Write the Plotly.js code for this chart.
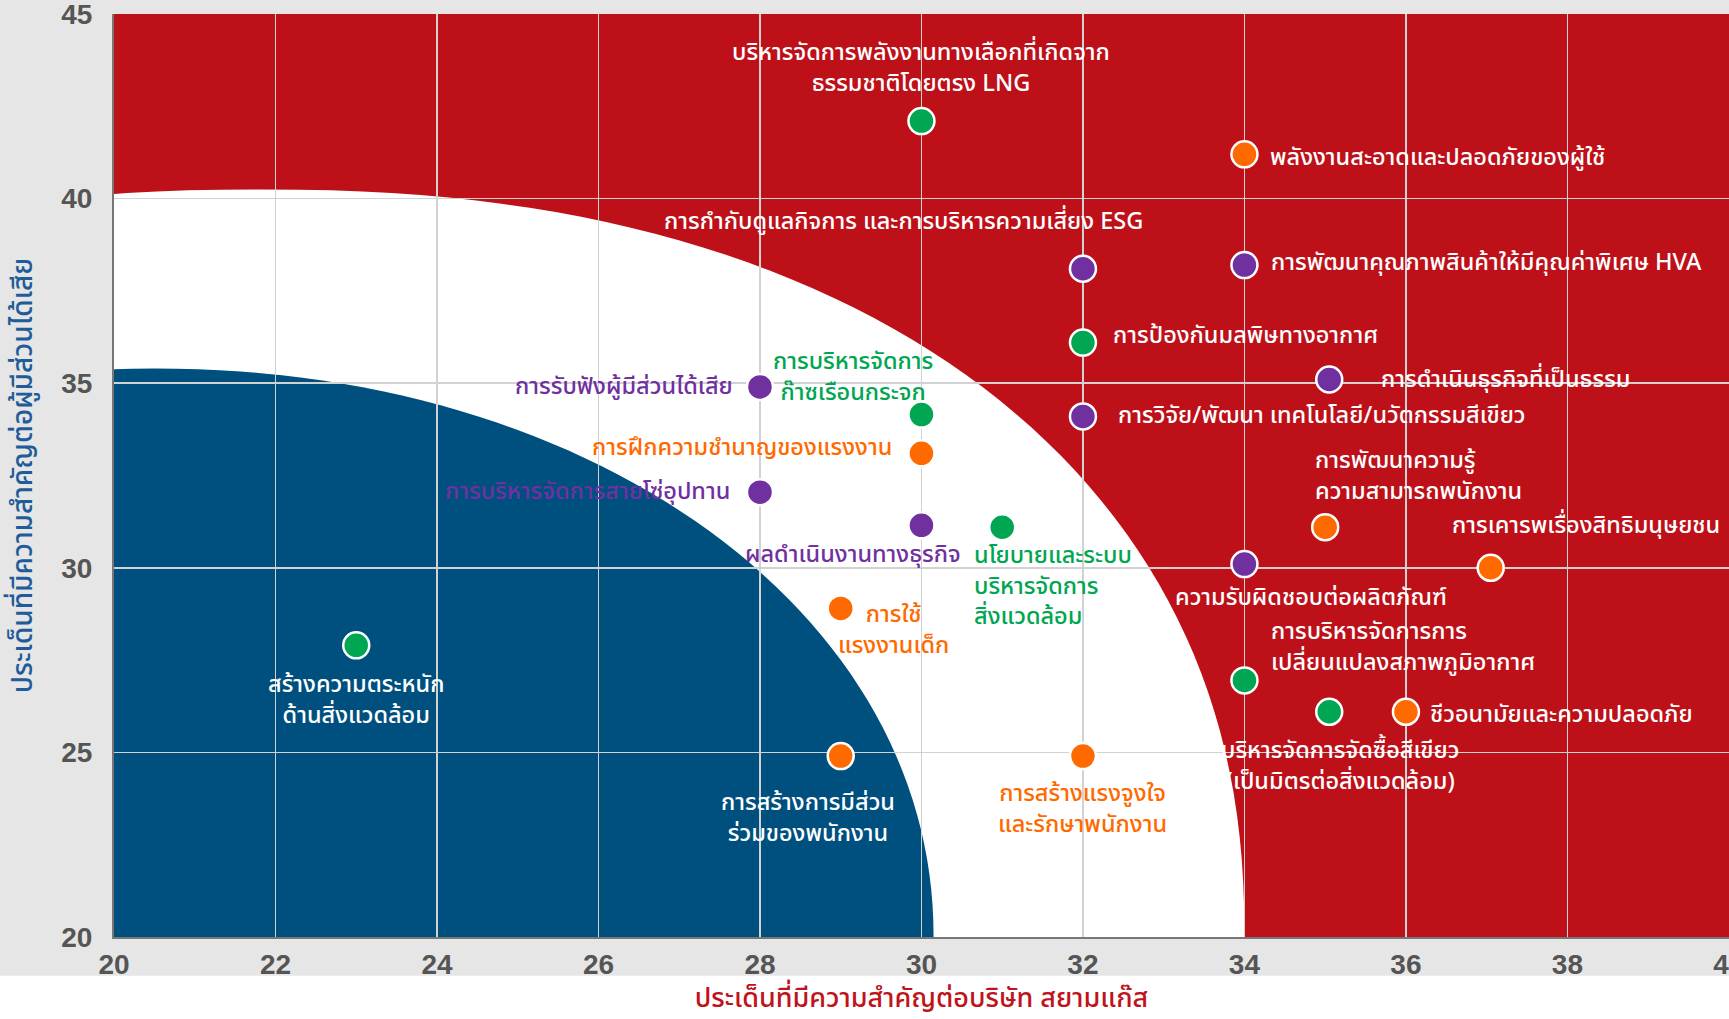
<!DOCTYPE html>
<html>
<head>
<meta charset="utf-8">
<script src="https://cdn.plot.ly/plotly-3.0.1.min.js"></script>
<style>
  html, body { margin: 0; padding: 0; background: #e6e6e6; }
  #chart { width: 1729px; height: 1019px; }
</style>
</head>
<body>
<div id="chart"></div>
<script>
// ---------------- DATA ----------------
const issues = [
  "บริหารจัดการพลังงานทางเลือกที่เกิดจาก<br>ธรรมชาติโดยตรง LNG",
  "พลังงานสะอาดและปลอดภัยของผู้ใช้",
  "การกำกับดูแลกิจการ และการบริหารความเสี่ยง ESG",
  "การพัฒนาคุณภาพสินค้าให้มีคุณค่าพิเศษ HVA",
  "การป้องกันมลพิษทางอากาศ",
  "การดำเนินธุรกิจที่เป็นธรรม",
  "การวิจัย/พัฒนา เทคโนโลยี/นวัตกรรมสีเขียว",
  "การรับฟังผู้มีส่วนได้เสีย",
  "การบริหารจัดการ<br>ก๊าซเรือนกระจก",
  "การฝึกความชำนาญของแรงงาน",
  "การบริหารจัดการสายโซ่อุปทาน",
  "ผลดำเนินงานทางธุรกิจ",
  "นโยบายและระบบ<br>บริหารจัดการ<br>สิ่งแวดล้อม",
  "การพัฒนาความรู้<br>ความสามารถพนักงาน",
  "ความรับผิดชอบต่อผลิตภัณฑ์",
  "การเคารพเรื่องสิทธิมนุษยชน",
  "การใช้<br>แรงงานเด็ก",
  "สร้างความตระหนัก<br>ด้านสิ่งแวดล้อม",
  "การบริหารจัดการการ<br>เปลี่ยนแปลงสภาพภูมิอากาศ",
  "บริหารจัดการจัดซื้อสีเขียว<br>(เป็นมิตรต่อสิ่งแวดล้อม)",
  "ชีวอนามัยและความปลอดภัย",
  "การสร้างการมีส่วน<br>ร่วมของพนักงาน",
  "การสร้างแรงจูงใจ<br>และรักษาพนักงาน"
];
// importance to the company (x)
const companyScore = [30, 34, 32, 34, 32, 35.05, 32, 28, 30, 30, 28, 30, 31, 35, 34, 37.05, 29, 23, 34, 35.05, 36, 29, 32];
// importance to stakeholders (y)
const stakeholderScore = [42.1, 41.2, 38.1, 38.2, 36.1, 35.1, 34.1, 34.9, 34.15, 33.1, 32.05, 31.15, 31.1, 31.1, 30.1, 30.0, 28.9, 27.9, 26.95, 26.1, 26.1, 24.9, 24.9];
// dimension of each issue
const dimension = ["env","soc","gov","gov","env","gov","gov","gov","env","soc","gov","gov","env","soc","gov","soc","soc","env","env","env","soc","soc","soc"];

const xTicks = [20, 22, 24, 26, 28, 30, 32, 34, 36, 38, 40];
const yTicks = [20, 25, 30, 35, 40, 45];
const xTitle = "ประเด็นที่มีความสำคัญต่อบริษัท สยามแก๊ส";
const yTitle = "ประเด็นที่มีความสำคัญต่อผู้มีส่วนได้เสีย";

// ---------------- STYLE ----------------
const dimColor = { env: "#00a651", soc: "#ff6a00", gov: "#7030a0" };
const RED = "#be1019", BLUE = "#00507f";
const THAI = "Noto Sans Thai, Noto Sans, sans-serif";
const S = 1.1027;
// label placement per issue: [xshift, yshift, xanchor, align, textColor]
const W = "#ffffff";
const place = [
  [0, 48, "center", "center", W],
  [21, -3, "left", "left", W],
  [-163, 42, "center", "center", W],
  [22, 2, "left", "left", W],
  [25, 6, "left", "left", W],
  [45, 0, "left", "left", W],
  [30, 0, "left", "left", W],
  [-23, 0, "right", "right", dimColor.gov],
  [-62, 34, "center", "center", dimColor.env],
  [-25, 5, "right", "right", dimColor.soc],
  [-25, 0, "right", "right", dimColor.gov],
  [-62, -27, "center", "center", dimColor.gov],
  [-27, -54, "left", "left", dimColor.env],
  [-11, 46, "left", "left", W],
  [60, -31, "center", "center", W],
  [86, 38, "center", "center", W],
  [48, -20, "center", "center", dimColor.soc],
  [0, -50, "center", "center", W],
  [22, 30, "left", "left", W],
  [10, -50, "center", "center", W],
  [20, -3, "left", "left", W],
  [-30, -57, "center", "center", W],
  [0, -48, "center", "center", dimColor.soc]
];

// region outlines (superellipse), in data units
function regionPath(cx, cy, a, b, n) {
  let d = "";
  const N = 120;
  for (let i = 0; i <= N; i++) {
    const t = Math.PI * i / N;
    const c = Math.cos(t), s = Math.sin(t);
    const x = cx + Math.sign(c) * a * Math.pow(Math.abs(c), 2 / n);
    const y = cy + b * Math.pow(Math.abs(s), 2 / n);
    d += (i === 0 ? "M" : "L") + x.toFixed(4) + "," + y.toFixed(4);
  }
  d += "L" + (cx - a).toFixed(4) + "," + (cy - 1) + "L" + (cx + a).toFixed(4) + "," + (cy - 1) + "Z";
  return d;
}

const trace = {
  type: "scatter",
  mode: "markers",
  x: companyScore,
  y: stakeholderScore,
  text: issues,
  hoverinfo: "text",
  marker: {
    size: 26,
    color: dimension.map(d => dimColor[d]),
    line: { color: "#ffffff", width: 2.5 }
  },
  cliponaxis: false
};

const annotations = issues.map((t, i) => ({
  x: companyScore[i], y: stakeholderScore[i], xref: "x", yref: "y",
  text: t, showarrow: false,
  xshift: place[i][0] * S, yshift: place[i][1] * S,
  xanchor: place[i][2], yanchor: "middle", align: place[i][3],
  font: { family: THAI, size: 23.5, color: place[i][4], weight: 500 }
}));

const tickFont = { family: "Liberation Sans Narrow, Liberation Sans, sans-serif", size: 28, color: "#555555", weight: "bold" };

const layout = {
  width: 1729, height: 1019,
  margin: { l: 114, r: 0, t: 14, b: 82 },
  paper_bgcolor: "#e6e6e6",
  plot_bgcolor: RED,
  showlegend: false,
  xaxis: {
    range: [20, 40.001], tickvals: xTicks, ticktext: xTicks.map(String),
    showgrid: true, gridcolor: "#d2d2d2", gridwidth: 1.5, zeroline: false,
    showline: true, linecolor: "#777777", linewidth: 2,
    ticks: "outside", ticklen: 1, tickcolor: "rgba(0,0,0,0)",
    ticklabeloverflow: "allow",
    tickfont: tickFont,
    title: { text: xTitle, font: { family: THAI, size: 27, color: "#c0141c", weight: 500 }, standoff: 6 },
    automargin: false
  },
  yaxis: {
    range: [20, 45.001], tickvals: yTicks, ticktext: yTicks.map(String),
    showgrid: true, gridcolor: "#d2d2d2", gridwidth: 1.5, zeroline: false,
    showline: true, linecolor: "#777777", linewidth: 2,
    ticks: "outside", ticklen: 14, tickcolor: "rgba(0,0,0,0)",
    ticklabeloverflow: "allow",
    tickfont: tickFont,
    title: { text: yTitle, font: { family: THAI, size: 28, color: "#1f5c99", weight: 500 }, standoff: 20 },
    automargin: false
  },
  shapes: [
    { type: "path", xref: "x", yref: "y", layer: "below", path: regionPath(21.8, 20, 12.2, 20.25, 2.25),
      fillcolor: "#ffffff", line: { width: 0 } },
    { type: "path", xref: "x", yref: "y", layer: "below", path: regionPath(20.5, 20, 9.65, 15.4, 2.05),
      fillcolor: BLUE, line: { width: 0 } },
    { type: "rect", xref: "paper", yref: "paper", layer: "below", x0: -0.2, x1: 1.2, y0: -0.2, y1: -0.042,
      fillcolor: "#ffffff", line: { width: 0 } }
  ],
  annotations: annotations
};

Plotly.newPlot("chart", [trace], layout, { displayModeBar: false, staticPlot: true });
</script>
</body>
</html>
